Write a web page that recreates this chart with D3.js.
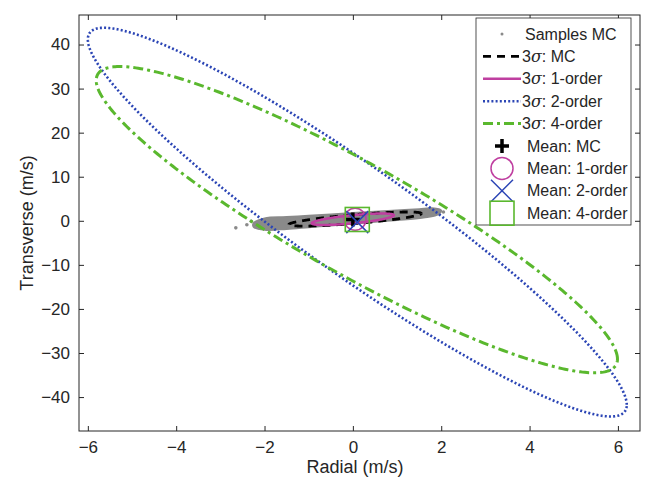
<!DOCTYPE html>
<html lang="en">
<head>
<meta charset="UTF-8">
<title>Velocity uncertainty ellipses</title>
<style>
  body { margin: 0; background: #fff; }
  text { font-family: "Liberation Sans", Arial, sans-serif; fill: #262626; }
</style>
</head>
<body>
<svg width="649" height="479"></svg>
<script src="https://d3js.org/d3.v7.min.js"></script>
<script>
// axis ticks
var xTicks = [-6, -4, -2, 0, 2, 4, 6];
var yTicks = [-40, -30, -20, -10, 0, 10, 20, 30, 40];

// outline of the dense Monte Carlo sample cloud (radial, transverse)
var cloudOutline = [
  [-2.25, -0.5], [-2.0, 0.6], [-1.5, 0.9], [-1.0, 1.2], [-0.5, 1.5], [0.0, 1.8],
  [0.5, 2.1], [1.0, 2.4], [1.5, 2.7], [1.8, 2.9], [2.0, 2.4],
  [1.95, 1.5], [1.6, 0.7], [1.0, 0.1], [0.5, -0.3], [0.0, -0.7], [-0.5, -1.1],
  [-1.0, -1.5], [-1.5, -1.9], [-2.0, -2.1], [-2.25, -1.4]
];
// isolated samples outside the cloud
var cloudStray = [[-2.65, -1.6], [-2.4, -0.9], [2.05, 2.0], [-2.3, -0.1]];

// 3-sigma ellipses: centre, half-extents (radial, transverse), correlation
var ellNames  = ["MC", "1-order", "2-order", "4-order"];
var ellCenter = [[0.05, 0.4], [0.0, 0.35], [0.1, -0.3], [0.09, 0.25]];
var ellHalfX  = [1.5, 0.93, 6.1, 5.9];
var ellHalfY  = [1.6, 1.3, 44.1, 34.75];
var ellRho    = [0.78, 0.7, -0.94, -0.91];

// mean estimates
var meanNames  = ["MC", "1-order", "2-order", "4-order"];
var meanPoints = [[0.0, 0.3], [0.05, 0.35], [0.1, -0.3], [0.1, 0.3]];

var svg = d3.select("svg");
var L = 79, R = 640, T = 15, B = 431;
var x = d3.scaleLinear().domain([-6.2, 6.5]).range([L, R]);
var y = d3.scaleLinear().domain([-47.7, 46.7]).range([B, T]);
var ink = "#262626";

var ellStyle = [
  { color: "#000000", width: 2.8, dash: "8,6" },
  { color: "#bf3fa0", width: 2.5, dash: null },
  { color: "#2b45b5", width: 2.6, dash: "2,2.2" },
  { color: "#5ab82e", width: 3, dash: "10,4,3,4" }
];
var meanStyle = [
  { shape: "plus", color: "#000000" },
  { shape: "circle", color: "#bf3fa0" },
  { shape: "x", color: "#2b45b5" },
  { shape: "square", color: "#5ab82e" }
];

var plot = svg.append("g");
plot.append("clipPath").attr("id", "clip").append("rect")
  .attr("x", L).attr("y", T).attr("width", R - L).attr("height", B - T);
var inner = plot.append("g").attr("clip-path", "url(#clip)");

// samples
inner.append("path")
  .datum(cloudOutline)
  .attr("d", d3.line().x(d => x(d[0])).y(d => y(d[1])).curve(d3.curveCatmullRomClosed))
  .attr("fill", "#8a8a8a").attr("stroke", "#8a8a8a").attr("stroke-width", 1.5);
inner.selectAll(".stray").data(cloudStray).enter().append("circle")
  .attr("cx", d => x(d[0])).attr("cy", d => y(d[1])).attr("r", 1.8).attr("fill", "#8a8a8a");

function ellipsePoints(i) {
  var pts = [];
  var s = Math.sqrt(1 - ellRho[i] * ellRho[i]);
  for (var k = 0; k <= 360; k++) {
    var t = k * Math.PI / 180;
    pts.push([ellCenter[i][0] + ellHalfX[i] * Math.cos(t),
              ellCenter[i][1] + ellHalfY[i] * (ellRho[i] * Math.cos(t) + s * Math.sin(t))]);
  }
  return pts;
}

var line = d3.line().x(d => x(d[0])).y(d => y(d[1]));
ellNames.forEach(function (n, i) {
  inner.append("path").datum(ellipsePoints(i)).attr("d", line)
    .attr("fill", "none").attr("stroke", ellStyle[i].color)
    .attr("stroke-width", ellStyle[i].width)
    .attr("stroke-dasharray", ellStyle[i].dash);
});

function drawMarker(g, cx, cy, st) {
  var c = st.color;
  if (st.shape === "plus") {
    g.append("path").attr("d", `M${cx - 7},${cy}H${cx + 7}M${cx},${cy - 7}V${cy + 7}`)
      .attr("stroke", c).attr("stroke-width", 3.5).attr("fill", "none");
  } else if (st.shape === "circle") {
    g.append("circle").attr("cx", cx).attr("cy", cy).attr("r", 11)
      .attr("stroke", c).attr("stroke-width", 1.5).attr("fill", "none");
  } else if (st.shape === "x") {
    g.append("path").attr("d", `M${cx - 11},${cy - 11}L${cx + 11},${cy + 11}M${cx - 11},${cy + 11}L${cx + 11},${cy - 11}`)
      .attr("stroke", c).attr("stroke-width", 1.5).attr("fill", "none");
  } else {
    g.append("rect").attr("x", cx - 12).attr("y", cy - 12).attr("width", 24).attr("height", 24)
      .attr("stroke", c).attr("stroke-width", 1.6).attr("fill", "none");
  }
}
meanPoints.forEach(function (p, i) { drawMarker(inner, x(p[0]), y(p[1]), meanStyle[i]); });

// frame and ticks
var ax = svg.append("g");
ax.append("rect").attr("x", L).attr("y", T).attr("width", R - L).attr("height", B - T)
  .attr("fill", "none").attr("stroke", ink).attr("stroke-width", 1);
ax.append("g").attr("transform", `translate(0,${B})`)
  .call(d3.axisBottom(x).tickValues(xTicks).tickSizeInner(-5).tickSizeOuter(0).tickPadding(10));
ax.append("g").attr("transform", `translate(${L},0)`)
  .call(d3.axisLeft(y).tickValues(yTicks).tickSizeInner(-5).tickSizeOuter(0).tickPadding(9));
ax.append("g").attr("transform", `translate(0,${T})`)
  .call(d3.axisTop(x).tickValues(xTicks).tickSizeInner(-5).tickSizeOuter(0).tickFormat(""));
ax.append("g").attr("transform", `translate(${R},0)`)
  .call(d3.axisRight(y).tickValues(yTicks).tickSizeInner(-5).tickSizeOuter(0).tickFormat(""));
ax.selectAll(".domain").remove();
ax.selectAll(".tick line").attr("stroke", ink);
ax.selectAll(".tick text").attr("font-size", 17).attr("fill", ink)
  .attr("font-family", "Liberation Sans, Arial, sans-serif");

svg.append("text").attr("x", 355).attr("y", 473).attr("text-anchor", "middle")
  .attr("font-size", 18).text("Radial (m/s)");
svg.append("text").attr("transform", `translate(33,${(T + B) / 2}) rotate(-90)`)
  .attr("text-anchor", "middle").attr("font-size", 18).text("Transverse (m/s)");

// legend
var lg = svg.append("g");
lg.append("rect").attr("x", 476).attr("y", 18).attr("width", 155).attr("height", 207)
  .attr("fill", "#fff").attr("stroke", ink).attr("stroke-width", 0.8);
var rowY = d3.range(9).map(i => 34 + i * 22.4);
var labels = ["Samples MC"].concat(ellNames.map(n => "3\u03c3: " + n)).concat(meanNames.map(n => "Mean: " + n));
labels.forEach(function (lab, i) {
  var yy = rowY[i];
  if (i === 0) {
    lg.append("circle").attr("cx", 502).attr("cy", yy).attr("r", 1.5).attr("fill", "#8a8a8a");
  } else if (i <= 4) {
    var st = ellStyle[i - 1];
    lg.append("line").attr("x1", 483).attr("x2", 521).attr("y1", yy).attr("y2", yy)
      .attr("stroke", st.color).attr("stroke-width", st.width).attr("stroke-dasharray", st.dash);
  } else {
    drawMarker(lg, 502, yy, meanStyle[i - 5]);
  }
  var t = lg.append("text").attr("x", i === 0 ? 525 : (i <= 4 ? 522 : 527)).attr("y", yy + 5.5).attr("font-size", 16);
  if (i >= 1 && i <= 4) {
    t.append("tspan").text("3");
    t.append("tspan").attr("font-style", "italic").attr("font-family", "DejaVu Serif, serif").text("\u03c3");
    t.append("tspan").text(": " + ellNames[i - 1]);
  } else {
    t.text(lab);
  }
});
</script>
</body>
</html>
